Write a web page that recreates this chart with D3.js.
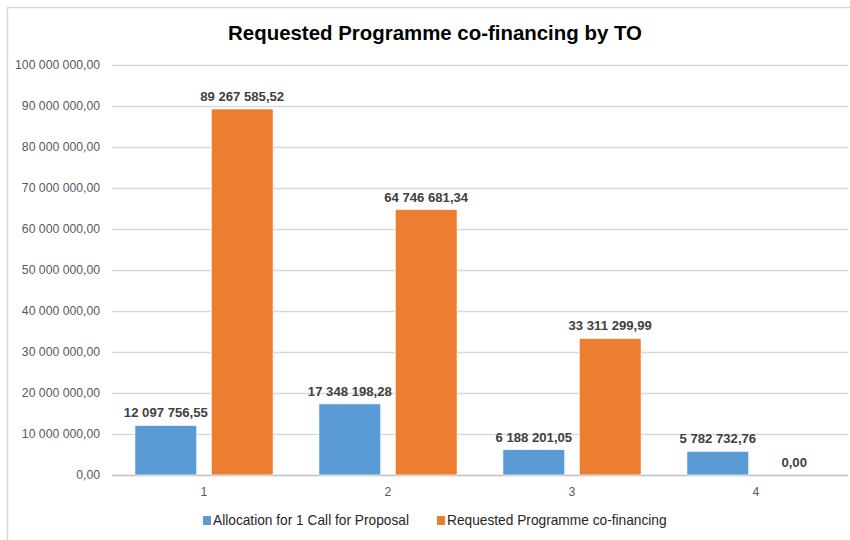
<!DOCTYPE html>
<html>
<head>
<meta charset="utf-8">
<script src="https://cdn.jsdelivr.net/npm/d3@7"></script>
<style>
  body { margin: 0; background: #fff; }
  svg { font-family: "Liberation Sans", Arial, sans-serif; }
</style>
</head>
<body>
<script>
const categories = ['1', '2', '3', '4'];
const seriesNames = ['Allocation for 1 Call for Proposal', 'Requested Programme co-financing'];
const allocation = [12097756.55, 17348198.28, 6188201.05, 5782732.76];
const requested = [89267585.52, 64746681.34, 33311299.99, 0];
const yTicks = [0, 10000000, 20000000, 30000000, 40000000, 50000000, 60000000, 70000000, 80000000, 90000000, 100000000];
const colors = ['#5B9BD5', '#ED7D31'];

const width = 850;
const height = 540;
const margin = { top: 65, right: 2, bottom: 65, left: 112 };

// "12 097 756,55" style
const fmt = (v) => {
  const parts = v.toFixed(2).split('.');
  const intPart = parts[0].replace(/\B(?=(\d{3})+(?!\d))/g, ' ');
  return intPart + ',' + parts[1];
};

const svg = d3.select('body')
  .append('svg')
    .attr('width', width)
    .attr('height', height);

// find a font size so that a sample string gets a given width (no Calibri here)
const fitSize = (sample, target, weight) => {
  const t = svg.append('text')
    .text(sample)
    .attr('font-size', 20)
    .attr('font-weight', weight);
  const w = t.node().getComputedTextLength();
  t.remove();
  return 20 * target / w;
};

const titleSize = fitSize('Requested Programme co-financing by TO', 414, 'bold');
const tickSize = fitSize('100 000 000,00', 85, 'normal');
const valueSize = fitSize('89 267 585,52', 84, 'bold');
const legendSize = fitSize(seriesNames[0], 196, 'normal');

// chart frame
svg.append('rect')
  .attr('x', 7.5)
  .attr('y', 7.5)
  .attr('width', width + 10)
  .attr('height', height + 10)
  .attr('fill', 'none')
  .attr('stroke', '#d9d9d9')
  .attr('stroke-width', 1.5);

svg.append('text')
  .text('Requested Programme co-financing by TO')
  .attr('x', 435)
  .attr('y', 40)
  .attr('text-anchor', 'middle')
  .attr('font-size', titleSize)
  .attr('font-weight', 'bold')
  .attr('fill', '#000');

const x0 = d3.scaleBand()
  .domain(categories)
  .range([margin.left, width - margin.right])
  .paddingInner(0)
  .paddingOuter(0);

const x1 = d3.scaleBand()
  .domain(seriesNames)
  .range([0, x0.bandwidth()])
  .paddingInner(0.19)
  .paddingOuter(0.3);

const y = d3.scaleLinear()
  .domain([0, 100000000])
  .range([height - margin.bottom, margin.top]);

// gridlines
svg.append('g')
  .selectAll('line')
  .data(yTicks)
  .enter()
  .append('line')
    .attr('x1', margin.left)
    .attr('x2', width - margin.right)
    .attr('y1', d => Math.round(y(d)) + 0.5)
    .attr('y2', d => Math.round(y(d)) + 0.5)
    .attr('stroke', d => d === 0 ? '#bfbfbf' : '#d9d9d9')
    .attr('stroke-width', 1.5);

// y axis labels
const yAxis = d3.axisLeft(y)
  .tickValues(yTicks)
  .tickFormat(fmt)
  .tickSize(0)
  .tickPadding(12);

svg.append('g')
  .attr('transform', `translate(${margin.left},0)`)
  .call(yAxis)
  .call(g => g.select('.domain').remove())
  .call(g => g.selectAll('text')
    .attr('font-family', '"Liberation Sans", Arial, sans-serif')
    .attr('font-size', tickSize)
    .attr('fill', '#595959'));

// x axis labels
const xAxis = d3.axisBottom(x0).tickSize(0).tickPadding(12);
svg.append('g')
  .attr('transform', `translate(0,${height - margin.bottom})`)
  .call(xAxis)
  .call(g => g.select('.domain').remove())
  .call(g => g.selectAll('text')
    .attr('font-family', '"Liberation Sans", Arial, sans-serif')
    .attr('font-size', tickSize)
    .attr('fill', '#595959'));

const rows = categories.map((c, i) => ({
  cat: c,
  values: [
    { name: seriesNames[0], value: allocation[i], color: colors[0] },
    { name: seriesNames[1], value: requested[i], color: colors[1] }
  ]
}));

const groups = svg.append('g')
  .selectAll('g')
  .data(rows)
  .enter()
  .append('g')
    .attr('transform', d => `translate(${x0(d.cat)},0)`);

groups.selectAll('rect')
  .data(d => d.values)
  .enter()
  .append('rect')
    .attr('x', d => x1(d.name))
    .attr('y', d => y(d.value))
    .attr('width', x1.bandwidth())
    .attr('height', d => y(0) - y(d.value))
    .attr('fill', d => d.color)
    .attr('stroke', d => d.value > 0 ? '#fff' : 'none')
    .attr('stroke-width', 0.7);

groups.selectAll('text')
  .data(d => d.values)
  .enter()
  .append('text')
    .text(d => fmt(d.value))
    .attr('x', d => x1(d.name) + x1.bandwidth() / 2)
    .attr('y', d => y(d.value) - 8)
    .attr('text-anchor', 'middle')
    .attr('font-size', valueSize)
    .attr('font-weight', 'bold')
    .attr('fill', '#404040');

// legend
const legendItems = [
  { name: seriesNames[0], color: colors[0], x: 203 },
  { name: seriesNames[1], color: colors[1], x: 437 }
];
const legend = svg.append('g');
legend.selectAll('rect')
  .data(legendItems)
  .enter()
  .append('rect')
    .attr('x', d => d.x)
    .attr('y', 516)
    .attr('width', 8)
    .attr('height', 9)
    .attr('fill', d => d.color);
legend.selectAll('text')
  .data(legendItems)
  .enter()
  .append('text')
    .text(d => d.name)
    .attr('x', d => d.x + 10)
    .attr('y', 525)
    .attr('font-size', legendSize)
    .attr('fill', '#262626');
</script>
</body>
</html>
